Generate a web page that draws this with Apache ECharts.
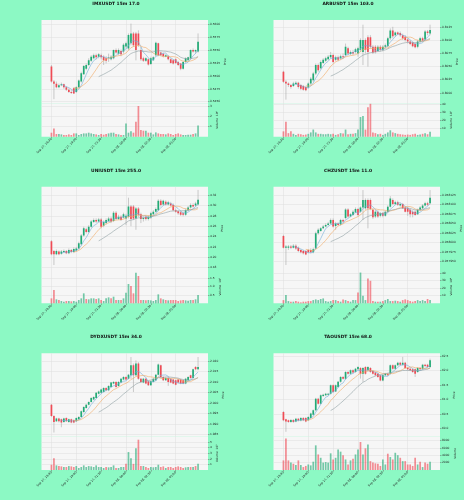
<!DOCTYPE html>
<html>
<head>
<meta charset="utf-8">
<script src="https://cdn.jsdelivr.net/npm/echarts@6/dist/echarts.min.js"></script>
<style>
html, body { margin: 0; padding: 0; background: #8cf9c4; }
#chart { width: 464px; height: 500px; }
</style>
</head>
<body>
<div id="chart"></div>
<script>
// x axis: 15m candles, labelled every 10 candles
const timeTicks = ['Sep 27, 16:30', 'Sep 27, 19:00', 'Sep 27, 21:30', 'Sep 28, 00:00', 'Sep 28, 02:30', 'Sep 28, 05:00']
const tickEvery = 10
const PAD = 4 // empty slots before first candle (xlim padding)
const xCats = Array.from({ length: 68 }, (_, i) => String(i))

// candles: [open, close, low, high]
const imxCandles = [
  [0.5518,0.5489,0.5487,0.5521],[0.5489,0.5485,0.5455,0.5492],[0.5485,0.5478,0.5476,0.5489],[0.5478,0.5482,0.5476,0.5485],
  [0.5482,0.5484,0.5480,0.5487],[0.5484,0.5478,0.5475,0.5485],[0.5478,0.5473,0.5471,0.5480],[0.5473,0.5469,0.5467,0.5476],
  [0.5469,0.5467,0.5465,0.5473],[0.5476,0.5466,0.5465,0.5478],[0.5469,0.5478,0.5467,0.5480],[0.5478,0.5491,0.5476,0.5493],
  [0.5489,0.5505,0.5487,0.5508],[0.5503,0.5519,0.5502,0.5521],[0.5514,0.5521,0.5511,0.5524],[0.5521,0.5530,0.5519,0.5534],
  [0.5529,0.5537,0.5527,0.5540],[0.5534,0.5540,0.5532,0.5543],[0.5540,0.5536,0.5532,0.5543],[0.5537,0.5542,0.5534,0.5544],
  [0.5540,0.5536,0.5532,0.5543],[0.5537,0.5530,0.5521,0.5540],[0.5534,0.5529,0.5524,0.5538],[0.5535,0.5536,0.5527,0.5543],
  [0.5532,0.5537,0.5530,0.5540],[0.5534,0.5550,0.5532,0.5551],[0.5550,0.5545,0.5543,0.5553],[0.5543,0.5550,0.5540,0.5553],
  [0.5548,0.5542,0.5538,0.5551],[0.5547,0.5560,0.5543,0.5563],[0.5557,0.5563,0.5553,0.5566],[0.5553,0.5579,0.5550,0.5582],
  [0.5563,0.5582,0.5559,0.5601],[0.5582,0.5559,0.5556,0.5585],[0.5582,0.5550,0.5530,0.5585],[0.5582,0.5559,0.5556,0.5588],
  [0.5550,0.5532,0.5529,0.5556],[0.5534,0.5529,0.5527,0.5537],[0.5529,0.5534,0.5527,0.5536],[0.5532,0.5522,0.5520,0.5534],
  [0.5523,0.5534,0.5521,0.5537],[0.5530,0.5536,0.5529,0.5538],[0.5540,0.5564,0.5538,0.5566],[0.5563,0.5540,0.5538,0.5564],
  [0.5545,0.5540,0.5538,0.5547],[0.5543,0.5538,0.5536,0.5545],[0.5537,0.5540,0.5536,0.5542],[0.5538,0.5532,0.5530,0.5540],
  [0.5532,0.5525,0.5524,0.5534],[0.5530,0.5524,0.5522,0.5532],[0.5532,0.5525,0.5523,0.5534],[0.5527,0.5521,0.5519,0.5529],
  [0.5524,0.5514,0.5511,0.5525],[0.5514,0.5527,0.5512,0.5529],[0.5527,0.5534,0.5525,0.5536],[0.5530,0.5536,0.5529,0.5537],
  [0.5534,0.5550,0.5532,0.5551],[0.5550,0.5547,0.5545,0.5553],[0.5547,0.5550,0.5543,0.5551],[0.5547,0.5566,0.5545,0.5582]
]
const imxVolume = [400000,830000,270000,270000,230000,170000,170000,230000,170000,330000,
  330000,170000,270000,330000,330000,400000,330000,270000,230000,170000,
  270000,200000,270000,330000,400000,400000,270000,230000,170000,170000,
  1330000,400000,550000,400000,1500000,3070000,670000,600000,600000,400000,
  400000,230000,430000,330000,270000,270000,230000,330000,270000,170000,
  270000,330000,230000,170000,170000,200000,200000,270000,330000,1130000]
const imxPriceTicks = [0.5450, 0.5475, 0.5500, 0.5525, 0.5550, 0.5575, 0.5600]
const imxVolumeTicks = [1e6, 2e6, 3e6]

const arbCandles = [
  [0.8040,0.8021,0.8019,0.8042],[0.8021,0.8018,0.7987,0.8024],[0.8018,0.8015,0.8011,0.8020],[0.8015,0.8011,0.8008,0.8017],
  [0.8013,0.8018,0.8011,0.8021],[0.8017,0.8019,0.8015,0.8022],[0.8019,0.8011,0.8008,0.8021],[0.8015,0.8008,0.8005,0.8017],
  [0.8013,0.8006,0.8004,0.8015],[0.8011,0.8005,0.8003,0.8013],[0.8010,0.8018,0.8008,0.8020],[0.8018,0.8027,0.8015,0.8030],
  [0.8024,0.8037,0.8021,0.8040],[0.8037,0.8053,0.8034,0.8056],[0.8053,0.8043,0.8040,0.8056],[0.8047,0.8059,0.8045,0.8062],
  [0.8057,0.8063,0.8055,0.8066],[0.8061,0.8066,0.8059,0.8069],[0.8064,0.8069,0.8062,0.8072],[0.8068,0.8072,0.8066,0.8078],
  [0.8072,0.8059,0.8056,0.8075],[0.8063,0.8068,0.8060,0.8071],[0.8068,0.8063,0.8060,0.8071],[0.8066,0.8070,0.8063,0.8073],
  [0.8070,0.8068,0.8066,0.8075],[0.8072,0.8088,0.8069,0.8094],[0.8085,0.8075,0.8072,0.8088],[0.8074,0.8078,0.8072,0.8081],
  [0.8078,0.8075,0.8072,0.8082],[0.8078,0.8083,0.8075,0.8086],[0.8075,0.8085,0.8069,0.8088],[0.8082,0.8101,0.8078,0.8104],
  [0.8078,0.8101,0.8053,0.8130],[0.8101,0.8082,0.8075,0.8104],[0.8106,0.8078,0.8050,0.8110],[0.8106,0.8088,0.8085,0.8110],
  [0.8088,0.8077,0.8074,0.8091],[0.8088,0.8078,0.8075,0.8091],[0.8080,0.8088,0.8078,0.8091],[0.8088,0.8082,0.8079,0.8091],
  [0.8082,0.8088,0.8079,0.8091],[0.8088,0.8091,0.8085,0.8094],[0.8089,0.8104,0.8087,0.8107],[0.8104,0.8119,0.8101,0.8123],
  [0.8119,0.8108,0.8104,0.8126],[0.8110,0.8115,0.8107,0.8117],[0.8115,0.8112,0.8110,0.8117],[0.8114,0.8110,0.8107,0.8117],
  [0.8110,0.8104,0.8101,0.8113],[0.8107,0.8101,0.8098,0.8110],[0.8102,0.8098,0.8094,0.8104],[0.8098,0.8093,0.8091,0.8101],
  [0.8096,0.8089,0.8087,0.8098],[0.8093,0.8087,0.8085,0.8096],[0.8088,0.8098,0.8085,0.8101],[0.8098,0.8104,0.8096,0.8107],
  [0.8104,0.8100,0.8098,0.8107],[0.8102,0.8117,0.8100,0.8120],[0.8117,0.8114,0.8110,0.8120],[0.8113,0.8120,0.8110,0.8130]
]
const arbVolume = [650000,1830000,430000,650000,350000,220000,350000,300000,220000,260000,
  350000,520000,870000,520000,350000,350000,300000,300000,350000,300000,
  350000,220000,300000,430000,400000,870000,300000,350000,350000,430000,
  870000,2390000,2520000,870000,3570000,4000000,520000,430000,300000,350000,
  220000,350000,520000,780000,520000,430000,350000,300000,260000,220000,
  260000,220000,300000,350000,220000,260000,350000,430000,300000,610000]
const arbPriceTicks = [0.8000, 0.8025, 0.8050, 0.8075, 0.8100, 0.8125]
const arbVolumeTicks = [1e6, 2e6, 3e6, 4e6]

const uniCandles = [
  [4.231,4.206,4.204,4.233],[4.212,4.206,4.185,4.214],[4.206,4.212,4.204,4.215],[4.211,4.206,4.204,4.213],
  [4.207,4.211,4.205,4.214],[4.210,4.212,4.208,4.215],[4.212,4.208,4.206,4.214],[4.208,4.214,4.206,4.217],
  [4.214,4.210,4.208,4.216],[4.210,4.216,4.208,4.219],[4.213,4.217,4.211,4.220],[4.217,4.227,4.215,4.230],
  [4.225,4.242,4.223,4.245],[4.242,4.256,4.240,4.259],[4.254,4.249,4.246,4.257],[4.249,4.259,4.247,4.262],
  [4.259,4.269,4.257,4.272],[4.268,4.272,4.266,4.275],[4.272,4.269,4.266,4.275],[4.269,4.273,4.267,4.276],
  [4.273,4.259,4.256,4.276],[4.261,4.268,4.258,4.271],[4.266,4.272,4.263,4.275],[4.270,4.275,4.268,4.278],
  [4.275,4.269,4.266,4.278],[4.270,4.286,4.268,4.289],[4.286,4.274,4.272,4.289],[4.274,4.278,4.272,4.282],
  [4.278,4.272,4.270,4.281],[4.277,4.283,4.275,4.286],[4.275,4.280,4.262,4.284],[4.278,4.298,4.275,4.315],
  [4.298,4.274,4.260,4.301],[4.298,4.275,4.272,4.301],[4.275,4.294,4.253,4.297],[4.294,4.282,4.278,4.297],
  [4.283,4.274,4.266,4.286],[4.274,4.276,4.269,4.279],[4.278,4.274,4.271,4.281],[4.274,4.278,4.271,4.281],
  [4.277,4.285,4.274,4.288],[4.283,4.288,4.281,4.291],[4.288,4.293,4.286,4.296],[4.291,4.309,4.289,4.312],
  [4.309,4.301,4.298,4.312],[4.302,4.309,4.300,4.311],[4.307,4.302,4.300,4.310],[4.302,4.306,4.300,4.309],
  [4.304,4.300,4.298,4.307],[4.301,4.291,4.289,4.304],[4.291,4.288,4.286,4.294],[4.289,4.285,4.282,4.291],
  [4.287,4.282,4.280,4.290],[4.285,4.282,4.279,4.288],[4.282,4.291,4.280,4.294],[4.291,4.296,4.289,4.299],
  [4.296,4.301,4.294,4.304],[4.301,4.298,4.296,4.304],[4.300,4.304,4.298,4.307],[4.302,4.311,4.300,4.330]
]
const uniVolume = [30000,80000,24000,20000,14000,10000,14000,14000,12000,14000,
  10000,20000,30000,60000,26000,24000,30000,30000,26000,30000,
  20000,14000,30000,36000,30000,40000,20000,20000,20000,30000,
  64000,116000,104000,60000,184000,164000,20000,20000,18000,20000,
  18000,14000,20000,54000,30000,24000,20000,18000,20000,20000,
  20000,14000,18000,20000,18000,16000,20000,20000,24000,50000]
const uniPriceTicks = [4.18, 4.20, 4.22, 4.24, 4.26, 4.28, 4.30, 4.32]
const uniVolumeTicks = [50000, 100000, 150000]

const chzCandles = [
  [0.058017,0.057986,0.057984,0.058020],[0.057986,0.057989,0.057940,0.057993],[0.057986,0.057989,0.057980,0.057993],[0.057989,0.057986,0.057982,0.057993],
  [0.057986,0.057991,0.057984,0.057995],[0.057991,0.057984,0.057980,0.057995],[0.057986,0.057977,0.057974,0.057989],[0.057980,0.057974,0.057971,0.057982],
  [0.057977,0.057971,0.057968,0.057980],[0.057977,0.057968,0.057966,0.057980],[0.057980,0.057974,0.057971,0.057982],[0.057980,0.057974,0.057971,0.057984],
  [0.057974,0.057982,0.057971,0.057986],[0.057984,0.058024,0.057982,0.058028],[0.058024,0.058033,0.058020,0.058037],[0.058030,0.058037,0.058028,0.058040],
  [0.058037,0.058042,0.058035,0.058046],[0.058042,0.058046,0.058040,0.058050],[0.058046,0.058050,0.058044,0.058054],[0.058050,0.058059,0.058048,0.058063],
  [0.058059,0.058042,0.058039,0.058063],[0.058043,0.058050,0.058033,0.058054],[0.058050,0.058046,0.058044,0.058053],[0.058047,0.058059,0.058044,0.058062],
  [0.058059,0.058055,0.058052,0.058062],[0.058064,0.058087,0.058061,0.058090],[0.058087,0.058068,0.058065,0.058090],[0.058068,0.058074,0.058066,0.058077],
  [0.058072,0.058081,0.058070,0.058085],[0.058079,0.058088,0.058077,0.058092],[0.058088,0.058072,0.058068,0.058091],[0.058081,0.058092,0.058078,0.058095],
  [0.058092,0.058112,0.058059,0.058138],[0.058090,0.058112,0.058086,0.058116],[0.058112,0.058090,0.058037,0.058116],[0.058112,0.058088,0.058085,0.058116],
  [0.058086,0.058066,0.058062,0.058090],[0.058068,0.058081,0.058064,0.058085],[0.058081,0.058068,0.058064,0.058085],[0.058070,0.058077,0.058066,0.058080],
  [0.058077,0.058070,0.058066,0.058080],[0.058070,0.058081,0.058068,0.058084],[0.058081,0.058094,0.058079,0.058098],[0.058094,0.058116,0.058092,0.058122],
  [0.058112,0.058101,0.058098,0.058116],[0.058101,0.058106,0.058098,0.058110],[0.058106,0.058099,0.058096,0.058110],[0.058097,0.058101,0.058094,0.058104],
  [0.058101,0.058090,0.058088,0.058104],[0.058092,0.058081,0.058079,0.058095],[0.058090,0.058081,0.058070,0.058094],[0.058086,0.058074,0.058066,0.058089],
  [0.058081,0.058074,0.058066,0.058085],[0.058081,0.058072,0.058070,0.058084],[0.058074,0.058086,0.058072,0.058089],[0.058086,0.058092,0.058083,0.058096],
  [0.058090,0.058097,0.058088,0.058101],[0.058097,0.058103,0.058095,0.058107],[0.058103,0.058099,0.058096,0.058107],[0.058103,0.058118,0.058100,0.058138]
]
const chzVolume = [4300000,10900000,3000000,2200000,2200000,3000000,2200000,1300000,2200000,2200000,
  3000000,3000000,4300000,5200000,4300000,5700000,6500000,3000000,2200000,3000000,
  4300000,4300000,3000000,2200000,5200000,4300000,3000000,2200000,4300000,4300000,
  14300000,40400000,10000000,4300000,32600000,29600000,3000000,2200000,2200000,2200000,
  3000000,4300000,5700000,3000000,3000000,3500000,3000000,2200000,4300000,5200000,
  4300000,3000000,2200000,3000000,4300000,3000000,4300000,3000000,5700000,4300000]
const chzPriceTicks = [0.057950, 0.057975, 0.058000, 0.058025, 0.058050, 0.058075, 0.058100, 0.058125]
const chzVolumeTicks = [1e7, 2e7, 3e7, 4e7]

const dydxCandles = [
  [1.9992,1.9938,1.9934,1.9995],[1.9938,1.9910,1.9860,1.9942],[1.9913,1.9926,1.9910,1.9930],[1.9926,1.9913,1.9908,1.9930],
  [1.9923,1.9907,1.9885,1.9926],[1.9910,1.9926,1.9906,1.9930],[1.9929,1.9913,1.9910,1.9932],[1.9910,1.9923,1.9906,1.9926],
  [1.9923,1.9907,1.9904,1.9926],[1.9918,1.9907,1.9904,1.9922],[1.9913,1.9929,1.9910,1.9932],[1.9923,1.9934,1.9920,1.9938],
  [1.9934,1.9961,1.9930,1.9965],[1.9957,1.9981,1.9953,1.9985],[1.9976,1.9992,1.9973,1.9996],[1.9992,2.0005,1.9989,2.0008],
  [2.0005,2.0024,2.0002,2.0028],[2.0016,2.0029,2.0013,2.0032],[2.0024,2.0049,2.0021,2.0052],[2.0044,2.0055,2.0041,2.0059],
  [2.0049,2.0064,2.0045,2.0068],[2.0052,2.0071,2.0049,2.0075],[2.0071,2.0060,2.0056,2.0075],[2.0060,2.0081,2.0056,2.0085],
  [2.0076,2.0097,2.0073,2.0100],[2.0092,2.0100,2.0089,2.0104],[2.0100,2.0076,2.0073,2.0104],[2.0081,2.0100,2.0078,2.0104],
  [2.0097,2.0115,2.0094,2.0119],[2.0112,2.0123,2.0108,2.0127],[2.0123,2.0112,2.0108,2.0127],[2.0115,2.0134,2.0112,2.0138],
  [2.0131,2.0179,2.0115,2.0218],[2.0179,2.0131,2.0052,2.0187],[2.0131,2.0187,2.0127,2.0202],[2.0187,2.0115,2.0110,2.0194],
  [2.0115,2.0100,2.0096,2.0119],[2.0097,2.0115,2.0094,2.0119],[2.0115,2.0092,2.0089,2.0119],[2.0103,2.0084,2.0081,2.0106],
  [2.0084,2.0103,2.0081,2.0106],[2.0100,2.0115,2.0097,2.0119],[2.0108,2.0134,2.0104,2.0138],[2.0134,2.0182,2.0131,2.0187],
  [2.0179,2.0123,2.0119,2.0182],[2.0123,2.0108,2.0104,2.0127],[2.0108,2.0119,2.0104,2.0123],[2.0119,2.0100,2.0081,2.0123],
  [2.0115,2.0097,2.0094,2.0119],[2.0112,2.0092,2.0089,2.0115],[2.0108,2.0087,2.0084,2.0111],[2.0112,2.0097,2.0094,2.0115],
  [2.0112,2.0092,2.0089,2.0115],[2.0108,2.0092,2.0089,2.0111],[2.0092,2.0115,2.0089,2.0119],[2.0108,2.0123,2.0104,2.0127],
  [2.0131,2.0119,2.0115,2.0134],[2.0119,2.0160,2.0115,2.0163],[2.0171,2.0160,2.0155,2.0175],[2.0160,2.0171,2.0155,2.0218]
]
const dydxVolume = [95000,210000,83000,71000,65000,54000,54000,71000,65000,54000,
  71000,36000,54000,83000,54000,71000,65000,54000,83000,54000,
  54000,36000,54000,48000,54000,83000,36000,36000,54000,54000,
  110000,320000,210000,110000,390000,540000,71000,71000,54000,36000,
  54000,48000,54000,95000,54000,65000,36000,54000,54000,36000,
  54000,65000,54000,36000,48000,54000,54000,54000,71000,110000]
const dydxPriceTicks = [1.985, 1.990, 1.995, 2.000, 2.005, 2.010, 2.015, 2.020]
const dydxVolumeTicks = [100000, 200000, 300000, 400000, 500000]

const taoCandles = [
  [60.57,60.29,60.26,60.60],[60.32,60.25,59.89,60.34],[60.29,60.23,60.20,60.31],[60.23,60.30,60.20,60.33],
  [60.30,60.23,60.20,60.33],[60.25,60.34,60.22,60.37],[60.34,60.28,60.25,60.37],[60.28,60.37,60.25,60.40],
  [60.37,60.29,60.26,60.40],[60.37,60.25,60.22,60.40],[60.29,60.40,60.26,60.43],[60.37,60.52,60.34,60.55],
  [60.48,60.63,60.45,60.66],[60.63,61.03,60.60,61.06],[61.03,60.86,60.83,61.06],[60.86,61.15,60.83,61.18],
  [61.12,61.17,61.09,61.20],[61.15,61.20,61.12,61.23],[61.17,61.20,61.14,61.23],[61.20,61.49,61.17,61.52],
  [61.49,61.26,61.23,61.52],[61.28,61.49,61.26,61.52],[61.43,61.61,61.40,61.64],[61.61,61.78,61.58,61.81],
  [61.78,61.72,61.69,61.81],[61.72,61.95,61.69,61.98],[61.95,61.89,61.86,61.98],[61.89,62.01,61.86,62.04],
  [62.01,61.93,61.90,62.04],[61.95,62.06,61.92,62.09],[62.04,62.12,62.01,62.15],[62.09,61.89,61.72,62.12],
  [61.89,62.09,61.61,62.12],[62.12,61.89,61.86,62.15],[62.01,62.12,61.95,62.15],[62.09,61.95,61.92,62.12],
  [61.98,61.89,61.86,62.01],[61.93,61.84,61.81,61.96],[61.89,61.78,61.75,61.92],[61.84,61.66,61.63,61.87],
  [61.66,61.84,61.63,61.87],[61.84,61.89,61.81,61.92],[61.89,61.84,61.81,61.92],[61.89,62.18,61.86,62.21],
  [62.18,62.06,62.03,62.21],[62.06,62.18,62.03,62.21],[62.18,62.27,62.15,62.30],[62.27,62.20,62.17,62.30],
  [62.20,62.27,62.17,62.47],[62.27,62.09,62.06,62.30],[62.09,62.04,62.01,62.12],[62.06,62.01,61.98,62.09],
  [62.04,61.95,61.92,62.07],[62.04,61.89,61.78,62.07],[61.95,62.09,61.92,62.12],[62.09,62.04,62.01,62.12],
  [62.06,62.20,62.03,62.23],[62.20,62.16,62.12,62.23],[62.20,62.12,62.09,62.23],[62.12,62.35,62.09,62.41]
]
const taoVolume = [2600,8500,2600,2000,1700,1350,2600,1350,800,1100,
  1500,1250,2250,6650,4200,3300,2000,2150,2000,4500,
  2850,3300,5550,4950,4000,2850,1500,2600,3050,4200,
  5550,7550,4200,5850,6900,2400,2000,1800,1700,1100,
  2850,1500,4400,3500,2850,4650,4000,3300,2400,2400,
  1500,1500,1100,3300,1500,2250,800,2000,1700,2250]
const taoPriceTicks = [60.0, 60.5, 61.0, 61.5, 62.0, 62.5]
const taoVolumeTicks = [2000, 4000, 6000, 8000]

const mavPeriods = [5, 10, 20]

const panels = [
  { title: 'IMXUSDT 15m 17.0', candles: imxCandles, volume: imxVolume, pMin: 0.5447, pMax: 0.5608, pTicks: imxPriceTicks, pDec: 4, vMax: 3.34e6, vTicks: imxVolumeTicks, vDiv: 1e6, vDec: 0, vName: 'Volume  10⁶' },
  { title: 'ARBUSDT 15m 103.0', candles: arbCandles, volume: arbVolume, pMin: 0.7980, pMax: 0.8139, pTicks: arbPriceTicks, pDec: 4, vMax: 4.06e6, vTicks: arbVolumeTicks, vDiv: 1e5, vDec: 0, vName: 'Volume  10⁵' },
  { title: 'UNIUSDT 15m 255.0', candles: uniCandles, volume: uniVolume, pMin: 4.1755, pMax: 4.3363, pTicks: uniPriceTicks, pDec: 2, vMax: 2.0e5, vTicks: uniVolumeTicks, vDiv: 1e5, vDec: 1, vName: 'Volume  10⁵' },
  { title: 'CHZUSDT 15m 11.0', candles: chzCandles, volume: chzVolume, pMin: 0.057927, pMax: 0.058147, pTicks: chzPriceTicks, pDec: 6, vMax: 4.38e7, vTicks: chzVolumeTicks, vDiv: 1e6, vDec: 0, vName: 'Volume  10⁶' },
  { title: 'DYDXUSDT 15m 34.0', candles: dydxCandles, volume: dydxVolume, pMin: 1.98405, pMax: 2.02355, pTicks: dydxPriceTicks, pDec: 3, vMax: 5.95e5, vTicks: dydxVolumeTicks, vDiv: 1e5, vDec: 0, vName: 'Volume  10⁵' },
  { title: 'TAOUSDT 15m 68.0', candles: taoCandles, volume: taoVolume, pMin: 59.725, pMax: 62.592, pTicks: taoPriceTicks, pDec: 1, vMax: 9000, vTicks: taoVolumeTicks, vDiv: 1, vDec: 0, vName: 'Volume' }
]

const UP = '#22ab76'
const DOWN = '#ef4b55'
const UP_VOL = 'rgba(34,171,118,0.62)'
const DOWN_VOL = 'rgba(239,75,85,0.62)'
const WICK = '#9a9a9a'
const PLOT_BG = '#f6f6f6'
const GRID_LINE = '#dedede'
const MAV_COLORS = ['#72acd8', '#f2a862', '#8e9fa3']
const FONT = 'DejaVu Sans'

function movingAverage(candles, n) {
  const out = []
  for (let i = n - 1; i < candles.length; i++) {
    let s = 0
    for (let j = i - n + 1; j <= i; j++) s += candles[j][1]
    out.push([i + PAD, s / n])
  }
  return out
}

const isTick = (idx) => idx >= PAD && (idx - PAD) % tickEvery === 0 && (idx - PAD) / tickEvery < timeTicks.length

function renderCandle(params, api) {
  const x = api.value(0)
  const o = api.value(1), c = api.value(2), lo = api.value(3), hi = api.value(4)
  const pO = api.coord([x, o])
  const pC = api.coord([x, c])
  const pL = api.coord([x, lo])
  const pH = api.coord([x, hi])
  const bw = 1.7
  const top = Math.min(pO[1], pC[1])
  const h = Math.max(Math.abs(pO[1] - pC[1]), 0.5)
  return {
    type: 'group',
    children: [
      { type: 'line', shape: { x1: pH[0], y1: pH[1], x2: pL[0], y2: pL[1] }, style: { stroke: WICK, lineWidth: 0.5 } },
      { type: 'rect', shape: { x: pO[0] - bw / 2, y: top, width: bw, height: h }, style: { fill: c >= o ? UP : DOWN } }
    ]
  }
}

const grids = [], xAxes = [], yAxes = [], series = [], graphics = []
const COL_W = 232, ROW_H = 500 / 3

panels.forEach((p, k) => {
  const ox = (k % 2) * COL_W
  const oy = Math.floor(k / 2) * ROW_H
  const gp = 2 * k, gv = 2 * k + 1

  graphics.push({
    type: 'text', x: ox + 116, y: oy + 1.8,
    style: { text: p.title, font: 'bold 4.4px "DejaVu Sans"', fill: '#111', textAlign: 'center', textVerticalAlign: 'top', verticalAlign: 'top' }
  })

  grids.push({ left: ox + 41.5, top: oy + 20, width: 166.5, height: 83.3, show: true, backgroundColor: PLOT_BG, borderWidth: 0 })
  grids.push({ left: ox + 41.5, top: oy + 103.3, width: 166.5, height: 33.4, show: true, backgroundColor: PLOT_BG, borderWidth: 0 })

  const xBase = {
    type: 'category', data: xCats, boundaryGap: false,
    axisLine: { show: false },
    splitLine: { show: true, interval: isTick, lineStyle: { color: GRID_LINE, width: 0.5 } }
  }
  xAxes.push(Object.assign({}, xBase, { gridIndex: gp, axisTick: { show: false }, axisLabel: { show: false } }))
  xAxes.push(Object.assign({}, xBase, {
    gridIndex: gv,
    axisTick: { show: true, interval: isTick, length: 1.5, lineStyle: { color: '#666', width: 0.5 } },
    axisLabel: {
      show: true, interval: isTick, rotate: 45, margin: 2, fontSize: 2.9, fontFamily: FONT, color: '#222',
      formatter: (v, idx) => timeTicks[(idx - PAD) / tickEvery]
    }
  }))

  yAxes.push({
    type: 'value', gridIndex: gp, position: 'right', min: p.pMin, max: p.pMax, scale: true,
    name: 'Price', nameLocation: 'middle', nameRotate: 90, nameGap: 12,
    nameTextStyle: { fontSize: 2.9, fontFamily: FONT, color: '#222' },
    axisLine: { show: false },
    axisTick: { show: true, customValues: p.pTicks, length: 1.5, lineStyle: { color: '#666', width: 0.5 } },
    axisLabel: { customValues: p.pTicks, margin: 2, fontSize: 2.9, fontFamily: FONT, color: '#222', formatter: (v) => Number(v).toFixed(p.pDec) },
    splitLine: { show: true, lineStyle: { color: GRID_LINE, width: 0.5 } }
  })
  yAxes.push({
    type: 'value', gridIndex: gv, position: 'right', min: 0, max: p.vMax,
    name: p.vName, nameLocation: 'middle', nameRotate: 90, nameGap: 7,
    nameTextStyle: { fontSize: 2.9, fontFamily: FONT, color: '#222' },
    axisLine: { show: false },
    axisTick: { show: true, customValues: p.vTicks, length: 1.5, lineStyle: { color: '#666', width: 0.5 } },
    axisLabel: { customValues: p.vTicks, margin: 2, fontSize: 2.9, fontFamily: FONT, color: '#222', formatter: (v) => (v / p.vDiv).toFixed(p.vDec) },
    splitLine: { show: true, lineStyle: { color: GRID_LINE, width: 0.5 } }
  })

  series.push({
    type: 'custom', xAxisIndex: gp, yAxisIndex: gp, renderItem: renderCandle, clip: true, z: 3,
    encode: { x: 0, y: [1, 2, 3, 4] },
    data: p.candles.map((d, i) => [i + PAD, d[0], d[1], d[2], d[3]])
  })
  mavPeriods.forEach((n, m) => {
    series.push({
      type: 'line', xAxisIndex: gp, yAxisIndex: gp, showSymbol: false, symbol: 'none', z: 4,
      lineStyle: { color: MAV_COLORS[m], width: 0.6 },
      data: movingAverage(p.candles, n)
    })
  })
  series.push({
    type: 'bar', xAxisIndex: gv, yAxisIndex: gv, barWidth: 1.7,
    data: p.volume.map((v, i) => ({
      value: [i + PAD, v],
      itemStyle: { color: p.candles[i][1] >= p.candles[i][0] ? UP_VOL : DOWN_VOL }
    }))
  })
})

const chart = echarts.init(document.getElementById('chart'), null, { renderer: 'canvas' })
chart.setOption({
  backgroundColor: '#8cf9c4',
  animation: false,
  graphic: graphics,
  grid: grids,
  xAxis: xAxes,
  yAxis: yAxes,
  series: series
})
</script>
</body>
</html>
